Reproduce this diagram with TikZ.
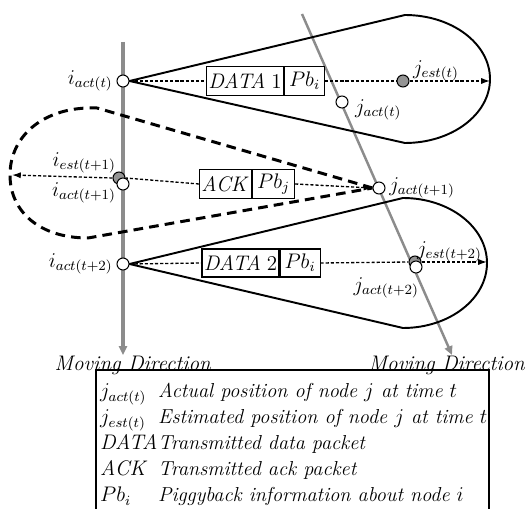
\documentclass[tikz,border=0pt]{standalone}
\usepackage{amsmath}
\usepackage{tikz}
\usetikzlibrary{positioning,arrows.meta}
\definecolor{trackgray}{rgb}{0.55,0.55,0.55}
\definecolor{estgray}{rgb}{0.58,0.58,0.58}
\pgfdeclarelayer{bg}
\pgfsetlayers{bg,main}

\begin{document}
\begin{tikzpicture}[x=0.02cm, y=-0.02cm,
  every node/.style={font=\fontsize{12}{14}\selectfont},
  spot/.style={circle, draw=black, fill=white, line width=0.6pt,
              minimum size=0.24cm, inner sep=0pt},
  estspot/.style={spot, fill=estgray},
  pkt/.style={rectangle, draw=black, line width=0.6pt, minimum height=0.58cm,
              inner sep=1pt},
  lbl/.style={inner sep=1pt},
  keytxt/.style={lbl, font=\fontsize{11.5}{14}\selectfont},
  zone/.style={draw=black, line width=1.1pt, line join=round},
  ackzone/.style={draw=black, line width=1.7pt, dash pattern=on 5.5pt off 3.5pt},
  sig/.style={draw=black, line width=0.75pt, dash pattern=on 1.8pt off 1.1pt},
  tip/.style={-{Latex[length=5pt,width=3.5pt]}},
  track/.style={draw=trackgray, -{Triangle[length=5pt,width=4.5pt]}}
]
\useasboundingbox (0,0) rectangle (531,509);
% Positions of node i (left track) and node j (right track)
\node[spot]    (ia0) at (123,81)  {};
\node[estspot] (ie1) at (119,178) {};
\node[spot]    (ia1) at (123,184) {};
\node[spot]    (ia2) at (123,264) {};
\node[spot]    (ja0) at (342,102) {};
\node[estspot] (je0) at (403,81)  {};
\node[spot]    (ja1) at (379,188) {};
\node[estspot] (je2) at (415,262) {};
\node[spot]    (ja2) at (416,267) {};
% Arrow ends
\coordinate (t0) at (490,81);
\coordinate (t1) at (12,175);
\coordinate (t2) at (487,262);
% Packets
\node[pkt, minimum width=1.52cm] (d1) at (245,81) {$\mathit{DATA}\;1$};
\node[pkt, minimum width=0.8cm, right=0pt of d1] (p1) {$Pb_i$};
\node[pkt, minimum width=0.86cm] (ack) at (225.5,184) {$\mathit{ACK}$};
\node[pkt, minimum width=0.84cm, right=0pt of ack] (pj) {$Pb_j$};
\node[pkt, minimum width=1.5cm, minimum height=0.56cm] (d2) at (240.5,263) {$\mathit{DATA}\;2$};
\node[pkt, minimum width=0.8cm, minimum height=0.56cm, right=0pt of d2] (p2) {$Pb_i$};
% Tracks and ranges behind everything
\begin{pgfonlayer}{bg}
\draw[track, line width=2pt] (123,42) -- (123,355);
\draw[track, line width=1.4pt] (302,14) -- (452,355);
\draw[zone] (ia0.east) -- (405,15)
  arc[start angle=-90, end angle=90, x radius=85, y radius=64] -- cycle;
\draw[zone] (ia2.east) -- (403,198)
  arc[start angle=-90, end angle=90, x radius=84, y radius=65] -- cycle;
\draw[ackzone] (ja1.west) -- (97,108) .. controls (45,106) and (10,135) .. (10,175)
  .. controls (10,212) and (40,238) .. (88,238) -- cycle;
\end{pgfonlayer}
% Transmissions
\draw[sig] (ia0.east) -- (d1.west);
\draw[sig] (p1.east) -- (je0.west);
\draw[sig, tip] (je0.east) -- (t0);
\draw[sig, tip] (pj.east) -- (ja1.west);
\draw[sig] (ack.west) -- (ie1.east);
\draw[sig, tip] (ie1.west) -- (t1);
\draw[sig] (ia2.east) -- (d2.west);
\draw[sig] (p2.east) -- (je2.west);
\draw[sig, tip] (je2.east) -- (t2);
% Position labels
\node[lbl, left=1pt of ia0] (lia0) {$i_{act(t)}$};
\node[lbl, anchor=east] (lie1) at (118,163) {$i_{est(t+1)}$};
\node[lbl, anchor=east] (lia1) at (118,193) {$i_{act(t+1)}$};
\node[lbl, left=1pt of ia2] (lia2) {$i_{act(t+2)}$};
\node[lbl, anchor=west] (lje0) at (411,71) {$j_{est(t)}$};
\node[lbl, anchor=west] (lja0) at (353,110) {$j_{act(t)}$};
\node[lbl, right=1pt of ja1] (lja1) {$j_{act(t+1)}$};
\node[lbl, anchor=west] (lje2) at (415,252) {$j_{est(t+2)}$};
\node[lbl, anchor=east] (lja2) at (421,288) {$j_{act(t+2)}$};
\node (mvl) at (133,365) {\textit{Moving Direction}};
\node (mvr) at (447,365) {\textit{Moving Direction}};
% Legend
\draw[line width=0.6pt] (96,509) |- (489,370) -- (489,509);
\foreach \sym/\txt [count=\k] in {
    {$j_{act(t)}$}/{Actual position of node $j$ at time $t$},
    {$j_{est(t)}$}/{Estimated position of node $j$ at time $t$},
    {$\mathit{DATA}$}/{Transmitted data packet},
    {$\mathit{ACK}$}/{Transmitted ack packet},
    {$Pb_i$}/{Piggyback information about node $i$}} {
  \node[keytxt, anchor=base west] (key\k) at (98,{372+26*\k}) {\sym};
  \node[keytxt, anchor=base west] (txt\k) at (156,{372+26*\k}) {\textit{\txt}};
}
\end{tikzpicture}
\end{document}
